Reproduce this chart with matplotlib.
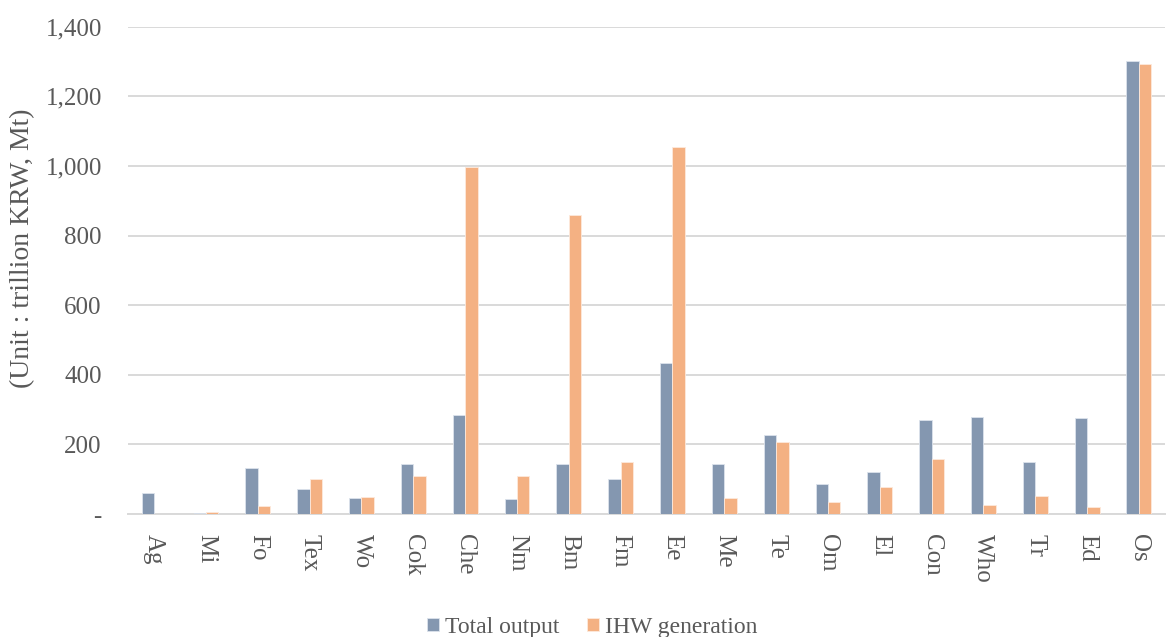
import numpy as np
import matplotlib.pyplot as plt
from matplotlib.ticker import FuncFormatter

sectors = ['Ag', 'Mi', 'Fo', 'Tex', 'Wo', 'Cok', 'Che', 'Nm', 'Bm', 'Fm',
           'Ee', 'Me', 'Te', 'Om', 'El', 'Con', 'Who', 'Tr', 'Ed', 'Os']
total_output = [61, 3, 133, 72, 46, 144, 286, 43, 145, 100,
                434, 145, 226, 87, 122, 271, 280, 149, 275, 1303]
ihw_generation = [1, 6, 23, 101, 50, 108, 996, 108, 860, 149,
                  1054, 46, 207, 35, 77, 159, 26, 52, 20, 1293]

plt.rcParams['font.family'] = ['Liberation Serif', 'DejaVu Serif']
grey = '#595959'

fig = plt.figure(figsize=(11.66, 6.37), dpi=100)
ax = fig.add_axes([0.110, 0.193, 0.889, 0.765])

x = np.arange(len(sectors))
w = 0.24
ax.bar(x - w / 2, total_output, w, color='#8497B0', edgecolor='#dce3ec',
       linewidth=0.6, label='Total output', zorder=3)
ax.bar(x + w / 2, ihw_generation, w, color='#F4B183', edgecolor='#fde9dc',
       linewidth=0.6, label='IHW generation', zorder=3)

ax.set_xlim(-0.5, len(sectors) - 0.5)
ax.set_ylim(0, 1400)
ax.set_yticks(range(0, 1401, 200))
ax.yaxis.set_major_formatter(FuncFormatter(lambda v, p: '-' if v == 0 else f'{int(v):,}'))
ax.grid(axis='y', color='#d9d9d9', linewidth=1.4, zorder=0)
ax.set_xticks(x)
ax.set_xticklabels(sectors, rotation=-90, fontsize=18, color=grey)
ax.tick_params(axis='y', labelsize=18, labelcolor=grey, length=0, pad=19)
ax.tick_params(axis='x', length=0, pad=14)
for s in ['top', 'right', 'left']:
    ax.spines[s].set_visible(False)
ax.spines['bottom'].set_color('#d9d9d9')
ax.spines['bottom'].set_linewidth(1.4)
ax.set_ylabel('(Unit : trillion KRW, Mt)', fontsize=20, color=grey)
ax.yaxis.set_label_coords(-0.09, 0.546)

fig.legend(loc='lower center', bbox_to_anchor=(0.508, -0.035), ncol=2, frameon=False,
           fontsize=17, labelcolor=grey, handlelength=0.5, handleheight=0.5,
           handletextpad=0.25, columnspacing=1.2)

fig.savefig('out.png', dpi=100)
